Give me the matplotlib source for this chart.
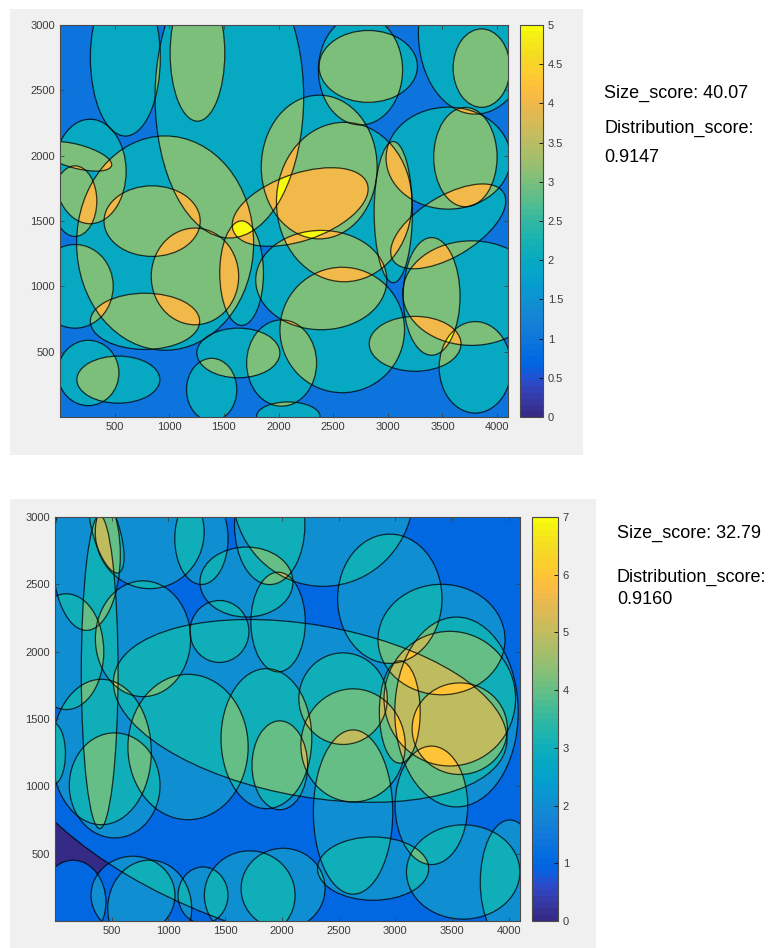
import numpy as np
import matplotlib
matplotlib.use("Agg")
import matplotlib.pyplot as plt
from matplotlib.colors import ListedColormap
from matplotlib.patches import Ellipse, Rectangle

plt.rcParams["font.family"] = ["Liberation Sans", "DejaVu Sans"]

# parula (64 colours)
parula = ListedColormap([
    [0.2081, 0.1663, 0.5292], [0.2116, 0.1898, 0.5777], [0.2123, 0.2138, 0.6270], [0.2081, 0.2386, 0.6771],
    [0.1959, 0.2645, 0.7279], [0.1707, 0.2919, 0.7792], [0.1253, 0.3242, 0.8303], [0.0591, 0.3598, 0.8683],
    [0.0117, 0.3875, 0.8820], [0.0060, 0.4086, 0.8828], [0.0165, 0.4266, 0.8786], [0.0329, 0.4430, 0.8720],
    [0.0498, 0.4586, 0.8641], [0.0629, 0.4737, 0.8554], [0.0723, 0.4887, 0.8467], [0.0779, 0.5040, 0.8384],
    [0.0793, 0.5200, 0.8312], [0.0749, 0.5375, 0.8263], [0.0641, 0.5570, 0.8240], [0.0488, 0.5772, 0.8228],
    [0.0343, 0.5966, 0.8199], [0.0265, 0.6137, 0.8135], [0.0239, 0.6287, 0.8038], [0.0231, 0.6418, 0.7913],
    [0.0228, 0.6535, 0.7768], [0.0267, 0.6642, 0.7607], [0.0384, 0.6743, 0.7436], [0.0590, 0.6838, 0.7254],
    [0.0843, 0.6928, 0.7062], [0.1133, 0.7015, 0.6859], [0.1453, 0.7098, 0.6646], [0.1801, 0.7177, 0.6424],
    [0.2178, 0.7250, 0.6193], [0.2586, 0.7317, 0.5954], [0.3022, 0.7376, 0.5712], [0.3482, 0.7424, 0.5473],
    [0.3953, 0.7459, 0.5244], [0.4420, 0.7481, 0.5033], [0.4871, 0.7491, 0.4840], [0.5300, 0.7491, 0.4661],
    [0.5709, 0.7485, 0.4494], [0.6099, 0.7473, 0.4337], [0.6473, 0.7456, 0.4188], [0.6834, 0.7435, 0.4044],
    [0.7184, 0.7411, 0.3905], [0.7525, 0.7384, 0.3768], [0.7858, 0.7356, 0.3633], [0.8185, 0.7327, 0.3498],
    [0.8507, 0.7299, 0.3360], [0.8824, 0.7274, 0.3217], [0.9139, 0.7258, 0.3063], [0.9450, 0.7261, 0.2886],
    [0.9739, 0.7314, 0.2666], [0.9938, 0.7455, 0.2403], [0.9990, 0.7653, 0.2164], [0.9955, 0.7861, 0.1967],
    [0.9880, 0.8066, 0.1794], [0.9789, 0.8271, 0.1633], [0.9697, 0.8481, 0.1475], [0.9626, 0.8705, 0.1309],
    [0.9589, 0.8949, 0.1132], [0.9598, 0.9218, 0.0948], [0.9661, 0.9514, 0.0755], [0.9763, 0.9831, 0.0538]])

# ---- data: ellipses (centre x, centre y, semi-axis x, semi-axis y, angle deg) ----
top_cx = [598, 1258, 1550, 2821, 2750, 3800, 3858, 275, 150, 962, 843, 2198, 2372, 2601, 2391,
          2583, 3554, 3710, 3050, 3553, 3401, 3767, 3800, 3250, 137, 259, 534, 778, 1388, 1632,
          2028, 2089, 1662, 1235, 137, 2050]
top_cy = [2750, 2784, 2450, 2683, 2655, 2938, 2670, 1879, 1995, 1331, 1499, 1607, 1913, 1645, 1048,
          666, 1981, 1989, 1568, 1459, 923, 948, 380, 560, 1000, 337, 286, 732, 209, 490,
          413, 5, 1101, 1076, 1652, 1500]
top_rx = [320, 250, 680, 450, 385, 520, 260, 330, 330, 810, 440, 640, 530, 620, 600,
          570, 570, 290, 175, 570, 260, 630, 330, 420, 350, 280, 380, 500, 230, 380,
          320, 290, 200, 400, 200, 5000]
top_ry = [600, 520, 1080, 275, 420, 620, 300, 400, 92, 820, 270, 260, 550, 610, 380,
          480, 390, 380, 540, 240, 450, 400, 350, 210, 320, 250, 180, 215, 240, 190,
          330, 110, 400, 370, 270, 4000]
top_ang = [0, 0, 0, 0, 0, 0, 0, 0, -12, 0, 0, 15, 0, 0, 0,
           0, 0, 0, 0, 25, 0, 0, 0, 0, 0, 0, 0, 0, 0, 0,
           0, 0, 0, 0, 0, 0]

bot_cx = [276, 453, 835, 1291, 1688, 1893, 2364, 2952, 1967, 776, 2250, 1173, 526, 409, -18, 1864, 2540,
          1982, 2628, 3481, 3408, 3569, 3040, 2628, 3319, 2805, 3599, 4010, 159, 688, 835, 1305, 1717,
          2011, 394, 100, 1450, 3540, 4000]
bot_cy = [2718, 2889, 2888, 2839, 2517, 2938, 3185, 2393, 2220, 2096, 1560, 1292, 1007, 1255, 1242, 1354, 1651,
          1156, 1304, 1651, 2090, 1428, 1552, 809, 859, 389, 364, 290, 141, 191, 92, 191, 191,
          240, 1849, 2000, 2150, 1552, 2000]
bot_rx = [300, 118, 480, 235, 410, 310, 800, 460, 240, 420, 1750, 530, 400, 440, 110, 400, 390,
          245, 460, 580, 560, 420, 180, 350, 320, 490, 500, 260, 290, 370, 370, 220, 400,
          370, 162, 330, 260, 544, 4743]
bot_ry = [560, 322, 420, 340, 260, 440, 700, 480, 370, 430, 640, 540, 390, 540, 230, 520, 340,
          330, 420, 500, 410, 340, 380, 610, 440, 235, 350, 460, 310, 290, 360, 210, 330,
          300, 1163, 430, 230, 705, 2353]
bot_ang = [0, 20, 0, 0, 0, 0, 0, 0, 0, 0, -8, 0, 0, 0, 0, 0, 0,
           0, 0, 0, 0, 0, 0, 0, 0, 0, 0, 0, 0, 0, 0, 0, 0,
           0, 0, 0, 0, 0, 0]

top_scores = ["Size_score: 40.07", "Distribution_score:", "0.9147"]
bot_scores = ["Size_score: 32.79", "Distribution_score:", "0.9160"]

X_MAX, Y_MAX = 4100, 3000


def coverage(cx, cy, rx, ry, ang):
    xs = np.linspace(0, X_MAX, 1100)
    ys = np.linspace(0, Y_MAX, 900)
    X, Y = np.meshgrid(xs, ys)
    count = np.zeros_like(X)
    for x0, y0, a, b, t in zip(cx, cy, rx, ry, ang):
        th = np.deg2rad(t)
        dx, dy = X - x0, Y - y0
        u = dx * np.cos(th) + dy * np.sin(th)
        v = -dx * np.sin(th) + dy * np.cos(th)
        count += ((u / a) ** 2 + (v / b) ** 2 <= 1)
    return count


def panel(ax, cax, cx, cy, rx, ry, ang, vmax, cticks):
    count = coverage(cx, cy, rx, ry, ang)
    im = ax.imshow(count, origin="lower", extent=[0, X_MAX, 0, Y_MAX], aspect="auto",
                   cmap=parula, vmin=0, vmax=vmax, interpolation="nearest")
    for x0, y0, a, b, t in zip(cx, cy, rx, ry, ang):
        ax.add_patch(Ellipse((x0, y0), 2 * a, 2 * b, angle=t, fill=False,
                             edgecolor="black", lw=0.9, alpha=0.75))
    ax.set_xlim(0, X_MAX)
    ax.set_ylim(0, Y_MAX)
    ax.set_xticks(range(500, 4001, 500))
    ax.set_yticks(range(500, 3001, 500))
    ax.tick_params(direction="in", top=True, right=True, labelsize=8, labelcolor="#3a3a3a",
                   length=3, width=0.6, color="#404040")
    for s in ax.spines.values():
        s.set_color("#4a4a4a")
        s.set_linewidth(0.8)
    cb = plt.colorbar(im, cax=cax, ticks=cticks)
    cb.ax.tick_params(direction="in", labelsize=8, labelcolor="#3a3a3a", length=3, width=0.6)
    cb.ax.set_yticklabels([("%g" % t) for t in cticks])
    cb.outline.set_edgecolor("#4a4a4a")
    cb.outline.set_linewidth(0.8)


W, H = 774, 948
fig = plt.figure(figsize=(W / 100, H / 100), dpi=100)
fig.patch.set_facecolor("white")

# grey backdrops of the two figure windows
fig.patches.append(Rectangle((10 / W, 1 - 455 / H), 573 / W, 446 / H, transform=fig.transFigure,
                             facecolor="#f0f0f0", edgecolor="none", zorder=-5))
fig.patches.append(Rectangle((10 / W, 0), 586 / W, 449 / H, transform=fig.transFigure,
                             facecolor="#f0f0f0", edgecolor="none", zorder=-5))

ax1 = fig.add_axes([60 / W, 1 - 417 / H, 448 / W, 392 / H])
cax1 = fig.add_axes([520 / W, 1 - 417 / H, 23 / W, 392 / H])
panel(ax1, cax1, top_cx, top_cy, top_rx, top_ry, top_ang, 5, np.arange(0, 5.01, 0.5))

ax2 = fig.add_axes([55 / W, 1 - 921 / H, 465 / W, 404 / H])
cax2 = fig.add_axes([532 / W, 1 - 921 / H, 26 / W, 404 / H])
panel(ax2, cax2, bot_cx, bot_cy, bot_rx, bot_ry, bot_ang, 7, np.arange(0, 8, 1))

for txt, y in zip(top_scores, [93, 128, 157]):
    fig.text(604 / W, 1 - y / H, txt, fontsize=13, va="center", ha="left")
for txt, y in zip(bot_scores, [533, 577, 599]):
    fig.text(617 / W, 1 - y / H, txt, fontsize=13, va="center", ha="left")

fig.savefig("out.png", dpi=100)
